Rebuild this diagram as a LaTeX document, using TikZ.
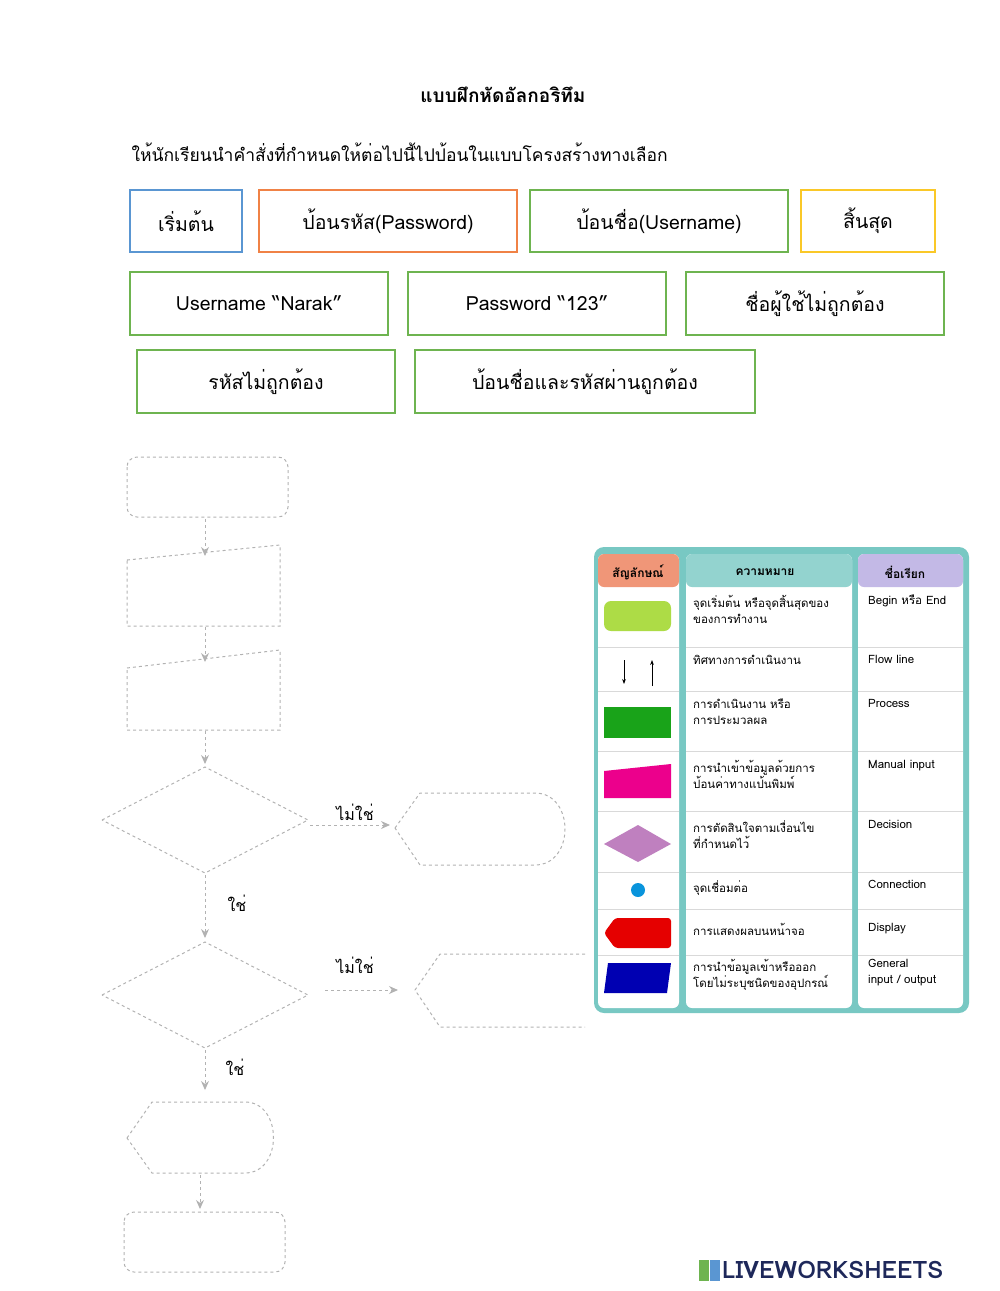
\documentclass[tikz,border=0pt]{standalone}
\usepackage{fontspec}
\IfFontExistsTF{Loma-Bold.otf}{\setmainfont{Loma.otf}[BoldFont=Loma-Bold.otf]}{\setmainfont{Loma.otf}}
\usetikzlibrary{arrows.meta}
\begin{document}
\begin{tikzpicture}[x=1pt,y=-1pt,
 box/.style={draw,line width=1.3pt,font=\fontsize{19.5}{22}\selectfont},
 fc/.style={draw=gray!60,dashed,line width=1pt},
 fa/.style={draw=gray!60,dashed,line width=1pt,-{Stealth[length=9pt,width=8pt]}},
 lab/.style={font=\fontsize{16}{18}\selectfont},
 tt/.style={font=\fontsize{11.5}{16}\selectfont,anchor=north west,align=left,inner sep=0pt},
 hd/.style={font=\bfseries\fontsize{12}{14}\selectfont}]
\useasboundingbox (0,0) rectangle (1000,1291);
\node[font=\bfseries\fontsize{19}{22}\selectfont] (title) at (503,95) {แบบฝึกหัดอัลกอริทึม};
\node[font=\fontsize{17.5}{20}\selectfont,anchor=west] (ins) at (128,152) {ให้นักเรียนนำคำสั่งที่กำหนดให้ต่อไปนี้ไปป้อนในแบบโครงสร้างทางเลือก};
\definecolor{bb}{RGB}{90,150,210}\definecolor{ob}{RGB}{240,130,70}
\definecolor{gb}{RGB}{110,180,80}\definecolor{yb}{RGB}{250,200,40}
\draw[box,bb] (130,190) rectangle (242,252) node[midway,black] (b1) {เริ่มต้น};
\draw[box,ob] (259,190) rectangle (517,252) node[midway,black] (b2) {ป้อนรหัส(Password)};
\draw[box,gb] (530,190) rectangle (788,252) node[midway,black] (b3) {ป้อนชื่อ(Username)};
\draw[box,yb] (801,190) rectangle (935,252) node[midway,black] (b4) {สิ้นสุด};
\draw[box,gb] (130,272) rectangle (388,335) node[midway,black] (b5) {Username “Narak”};
\draw[box,gb] (408,272) rectangle (666,335) node[midway,black] (b6) {Password “123”};
\draw[box,gb] (686,272) rectangle (944,335) node[midway,black] (b7) {ชื่อผู้ใช้ไม่ถูกต้อง};
\draw[box,gb] (137,350) rectangle (395,413) node[midway,black] (b8) {รหัสไม่ถูกต้อง};
\draw[box,gb] (415,350) rectangle (755,413) node[midway,black] (b9) {ป้อนชื่อและรหัสผ่านถูกต้อง};
% flowchart
\draw[fc,rounded corners=10pt] (127,457) rectangle (288,517);
\draw[fa] (205,519) -- (205,556);
\draw[fc] (127,560) -- (280,545) -- (280,626) -- (127,626) -- cycle;
\draw[fa] (205,627) -- (205,662);
\draw[fc] (127,668) -- (280,650) -- (280,730) -- (127,730) -- cycle;
\draw[fa] (205,731) -- (205,764);
\draw[fc] (102,820) -- (205,767) -- (308,820) -- (205,873) -- cycle;
\draw[fa] (310,825) -- (390,825);
\node[lab] (n1) at (355,812) {ไม่ใช่};
\draw[fc] (395,828) -- (420,793) -- (535,793) .. controls (575,793) and (575,865) .. (535,865) -- (420,865) -- cycle;
\draw[fa] (205,875) -- (205,938);
\node[lab] (y1) at (237,903) {ใช่};
\draw[fc] (102,995) -- (205,942) -- (308,995) -- (205,1048) -- cycle;
\draw[fa] (325,990) -- (398,990);
\node[lab] (n2) at (355,965) {ไม่ใช่};
\draw[fc] (585,954) -- (440,954) -- (415,990) -- (440,1027) -- (585,1027);
\draw[fa] (205,1050) -- (205,1090);
\node[lab] (y2) at (235,1067) {ใช่};
\draw[fc] (127,1138) -- (152,1102) -- (245,1102) .. controls (283,1102) and (283,1173) .. (245,1173) -- (152,1173) -- cycle;
\draw[fa] (200,1175) -- (200,1209);
\draw[fc,rounded corners=10pt] (124,1212) rectangle (285,1272);
% table
\definecolor{teal}{RGB}{120,200,195}\definecolor{sal}{RGB}{240,150,120}
\definecolor{lav}{RGB}{195,185,230}
\fill[teal,rounded corners=10pt] (594,547) rectangle (969,1013);
\fill[white,rounded corners=6pt] (598,554) rectangle (679,1008);
\fill[white,rounded corners=6pt] (686,554) rectangle (852,1008);
\fill[white,rounded corners=6pt] (858,554) rectangle (963,1008);
\fill[sal,rounded corners=6pt] (598,554) rectangle (679,587);
\fill[teal!80,rounded corners=6pt] (686,554) rectangle (852,587);
\fill[lav,rounded corners=6pt] (858,554) rectangle (963,587);
\foreach \y in {647,691,751,811,872,909,955}{
 \draw[gray!30,line width=0.8pt] (598,\y) -- (679,\y) (686,\y) -- (852,\y) (858,\y) -- (963,\y);}
\node[hd] (h1) at (638,572) {สัญลักษณ์};
\node[hd] (h2) at (765,572) {ความหมาย};
\node[hd] (h3) at (905,572) {ชื่อเรียก};
\fill[yellow!60!green!80!white,rounded corners=7pt] (604,601) rectangle (671,631);
\draw[-{Stealth[length=5pt]},line width=1pt] (624,660) -- (624,684);
\draw[-{Stealth[length=5pt]},line width=1pt] (652,686) -- (652,660);
\fill[green!60!black!90!white] (604,707) rectangle (671,738);
\fill[magenta] (604,771) -- (671,764) -- (671,798) -- (604,798) -- cycle;
\fill[violet!50!white] (604,844) -- (638,825) -- (671,844) -- (638,862) -- cycle;
\fill[cyan!80!blue] (638,890) circle (7);
\fill[red!90!black,rounded corners=3pt] (604,933) -- (615,918) -- (671,918) -- (671,948) -- (615,948) -- cycle;
\fill[blue!70!black] (608,963) -- (671,963) -- (667,993) -- (604,993) -- cycle;
\node[tt] (t1) at (693,595) {จุดเริ่มต้น หรือจุดสิ้นสุดของ\\ของการทำงาน};
\node[tt] (t2) at (693,655) {ทิศทางการดำเนินงาน};
\node[tt] (t3) at (693,699) {การดำเนินงาน หรือ\\การประมวลผล};
\node[tt] (t4) at (693,760) {การนำเข้าข้อมูลด้วยการ\\ป้อนค่าทางแป้นพิมพ์};
\node[tt] (t5) at (693,820) {การตัดสินใจตามเงื่อนไข\\ที่กำหนดไว้};
\node[tt] (t6) at (693,880) {จุดเชื่อมต่อ};
\node[tt] (t7) at (693,923) {การแสดงผลบนหน้าจอ};
\node[tt] (t8) at (693,959) {การนำข้อมูลเข้าหรือออก\\โดยไม่ระบุชนิดของอุปกรณ์};
\node[tt] (s1) at (868,595) {Begin หรือ End};
\node[tt] (s2) at (868,655) {Flow line};
\node[tt] (s3) at (868,699) {Process};
\node[tt] (s4) at (868,760) {Manual input};
\node[tt] (s5) at (868,820) {Decision};
\node[tt] (s6) at (868,880) {Connection};
\node[tt] (s7) at (868,923) {Display};
\node[tt] (s8) at (868,959) {General\\input / output};
\definecolor{navy}{RGB}{30,40,90}
\node[font=\bfseries\fontsize{24}{28}\selectfont,text=navy,anchor=west,inner sep=0pt] (logo) at (722,1270) {LIVEWORKSHEETS};
\fill[gb] (699,1260) rectangle (709,1281);\fill[bb] (710,1260) rectangle (720,1281);
\end{tikzpicture}
\end{document}
